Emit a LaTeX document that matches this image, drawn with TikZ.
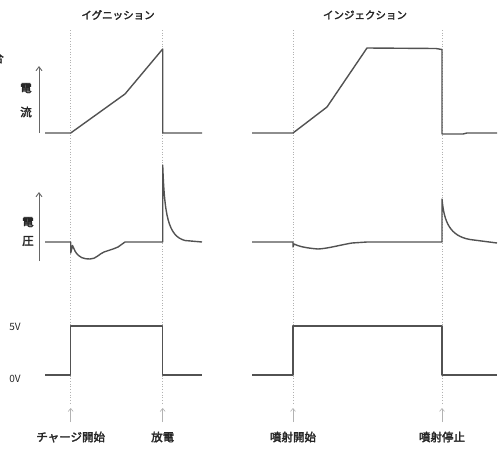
\documentclass[tikz,border=0pt]{standalone}
\usepackage{fontspec}
\newfontfamily\jp{Noto Sans CJK JP}[AutoFakeBold=2.5]
\usetikzlibrary{arrows.meta}
\tikzset{
  sig/.style={draw=black!68, line width=1.4pt, line join=round},
  guide/.style={draw=black!30, dotted, line width=0.7pt},
  axisarrow/.style={draw=black!60, line width=0.9pt, -{Straight Barb[length=4pt,width=6pt]}},
  markarrow/.style={draw=black!30, line width=0.6pt, -{Straight Barb[length=3pt,width=5pt]}},
  lbl/.style={font=\jp\bfseries\fontsize{11.5}{12}\selectfont, text=black!85, inner sep=0pt},
  ttl/.style={font=\jp\bfseries\fontsize{10.5}{11}\selectfont, text=black!85, inner sep=0pt},
  vlbl/.style={font=\jp\fontsize{10}{11}\selectfont, text=black!85, inner sep=0pt},
}
\begin{document}
\begin{tikzpicture}[x=1pt,y=-1pt]
\useasboundingbox (0,0) rectangle (501,448);
% titles
\node[ttl] (t1) at (118,15) {イグニッション};
\node[ttl] (t2) at (365,15) {インジェクション};
\node[lbl] (cut) at (-2,58) {合};
% guide lines
\foreach \n/\x in {a/70.7,b/162.7,c/293,d/442}{
  \coordinate (top\n) at (\x,30);
  \coordinate (bot\n) at (\x,403);
  \draw[guide] (top\n) -- (bot\n);
  \coordinate (at\n) at (\x,422);
  \coordinate (ah\n) at (\x,408);
  \draw[markarrow] (at\n) -- (ah\n);
}
% axis arrows and labels
\coordinate (ci0) at (39,133); \coordinate (ci1) at (39,66);
\coordinate (vi0) at (39,261); \coordinate (vi1) at (39,192);
\draw[axisarrow] (ci0) -- (ci1);
\draw[axisarrow] (vi0) -- (vi1);
\node[lbl] (den1) at (26,88) {電};
\node[lbl] (ryu) at (26,112) {流};
\node[lbl] (den2) at (28,222) {電};
\node[lbl] (atsu) at (28,241) {圧};
\node[vlbl] (v5) at (15,327) {5V};
\node[vlbl] (v0) at (15,379) {0V};
% ignition current
\draw[sig] (45,133) -- (70.7,133) -- (125,94) -- (162.7,49) -- (162.7,133) -- (202,133);
% ignition voltage
\draw[sig] (45,242) -- (70.7,242) -- (70.7,253) -- (72.5,245.5) -- (75,251)
  .. controls (79,258) and (84,259) .. (90,259)
  .. controls (96,259) and (99,254) .. (104,252)
  -- (113,249) -- (118,247) -- (125,242) -- (162.7,242) -- (162.7,165)
  .. controls (164.5,215) and (168,236) .. (185,240.5) -- (202,242);
% ignition pulse
\draw[sig] (45,375) -- (70.7,375) -- (70.7,326) -- (162.7,326) -- (162.7,375) -- (202,375);
% injection current
\draw[sig] (252,133) -- (293,133) -- (327,107) -- (367,48) -- (436,48.5) -- (442,49.5) -- (442,134) -- (463,134) -- (467,133) -- (497,133);
% injection voltage
\draw[sig] (252,242) -- (293,242) -- (293,247) -- (294,244)
  .. controls (298,246) and (305,248) .. (318,249)
  .. controls (328,248.5) and (340,245) .. (352,243)
  -- (367,242) -- (442,242) -- (442,199)
  .. controls (444,222) and (450,236) .. (470,239.5) -- (497,243);
% injection pulse
\draw[sig] (252,375) -- (293,375) -- (293,326) -- (442,326) -- (442,375) -- (497,375);
% bottom labels
\node[lbl] (l1) at (70.7,437) {チャージ開始};
\node[lbl] (l2) at (162.7,437) {放電};
\node[lbl] (l3) at (293,437) {噴射開始};
\node[lbl] (l4) at (442,437) {噴射停止};
\end{tikzpicture}
\end{document}
